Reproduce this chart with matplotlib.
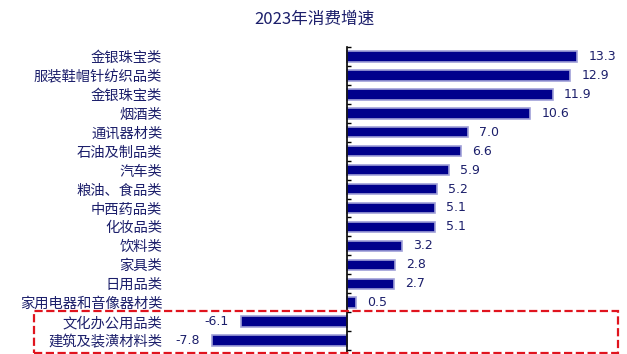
import numpy as np
import matplotlib.pyplot as plt
from matplotlib.patches import Rectangle

plt.rcParams['font.family'] = ['Noto Sans CJK SC', 'DejaVu Sans']

# 各类商品消费增速（%）
categories = ['金银珠宝类', '服装鞋帽针纺织品类', '金银珠宝类', '烟酒类', '通讯器材类',
              '石油及制品类', '汽车类', '粮油、食品类', '中西药品类', '化妆品类',
              '饮料类', '家具类', '日用品类', '家用电器和音像器材类', '文化办公用品类',
              '建筑及装潢材料类']
values = [13.3, 12.9, 11.9, 10.6, 7.0, 6.6, 5.9, 5.2, 5.1, 5.1, 3.2, 2.8, 2.7, 0.5, -6.1, -7.8]

navy = '#00008c'
text_color = '#1c1f6b'

fig = plt.figure(figsize=(6.27, 3.54), dpi=100)
ax = fig.add_axes([0.239, 0.006, 0.75, 0.861])

y = np.arange(len(categories))
ax.barh(y, values, height=0.55, color=navy, edgecolor='#a0a0d8', linewidth=1.2)

ax.set_xlim(-11.39, 15.78)
ax.set_ylim(15.6, -0.5)

for s in ['top', 'right', 'bottom']:
    ax.spines[s].set_visible(False)
ax.spines['left'].set_position(('data', 0))
ax.spines['left'].set_linewidth(1.2)
ax.set_xticks([])

# 类别名称右对齐
ax.set_yticks(y)
ax.set_yticklabels(categories, fontsize=10.3, color=text_color)
ax.tick_params(axis='y', which='major', length=0, pad=133)
ax.set_yticks(np.arange(-0.5, len(categories), 1), minor=True)
ax.tick_params(axis='y', which='minor', direction='in', length=3, width=1)

for yi, v in zip(y, values):
    if v >= 0:
        ax.annotate(f'{v:.1f}', (v, yi), xytext=(8, 0), textcoords='offset points',
                    ha='left', va='center', fontsize=9, color=text_color,
                    family='DejaVu Sans')
    else:
        ax.annotate(f'{v:.1f}', (v, yi), xytext=(-9, 0), textcoords='offset points',
                    ha='right', va='center', fontsize=9, color=text_color,
                    family='DejaVu Sans')

fig.text(0.502, 0.945, '2023年消费增速', ha='center', va='center', fontsize=12,
         color=text_color)

# 负增长类别的红色虚线框
fig.patches.append(Rectangle((0.054, 0.003), 0.931, 0.118, transform=fig.transFigure,
                             fill=False, edgecolor='#e0141e', linestyle='--',
                             linewidth=1.6))

fig.savefig('out.png', dpi=100)
